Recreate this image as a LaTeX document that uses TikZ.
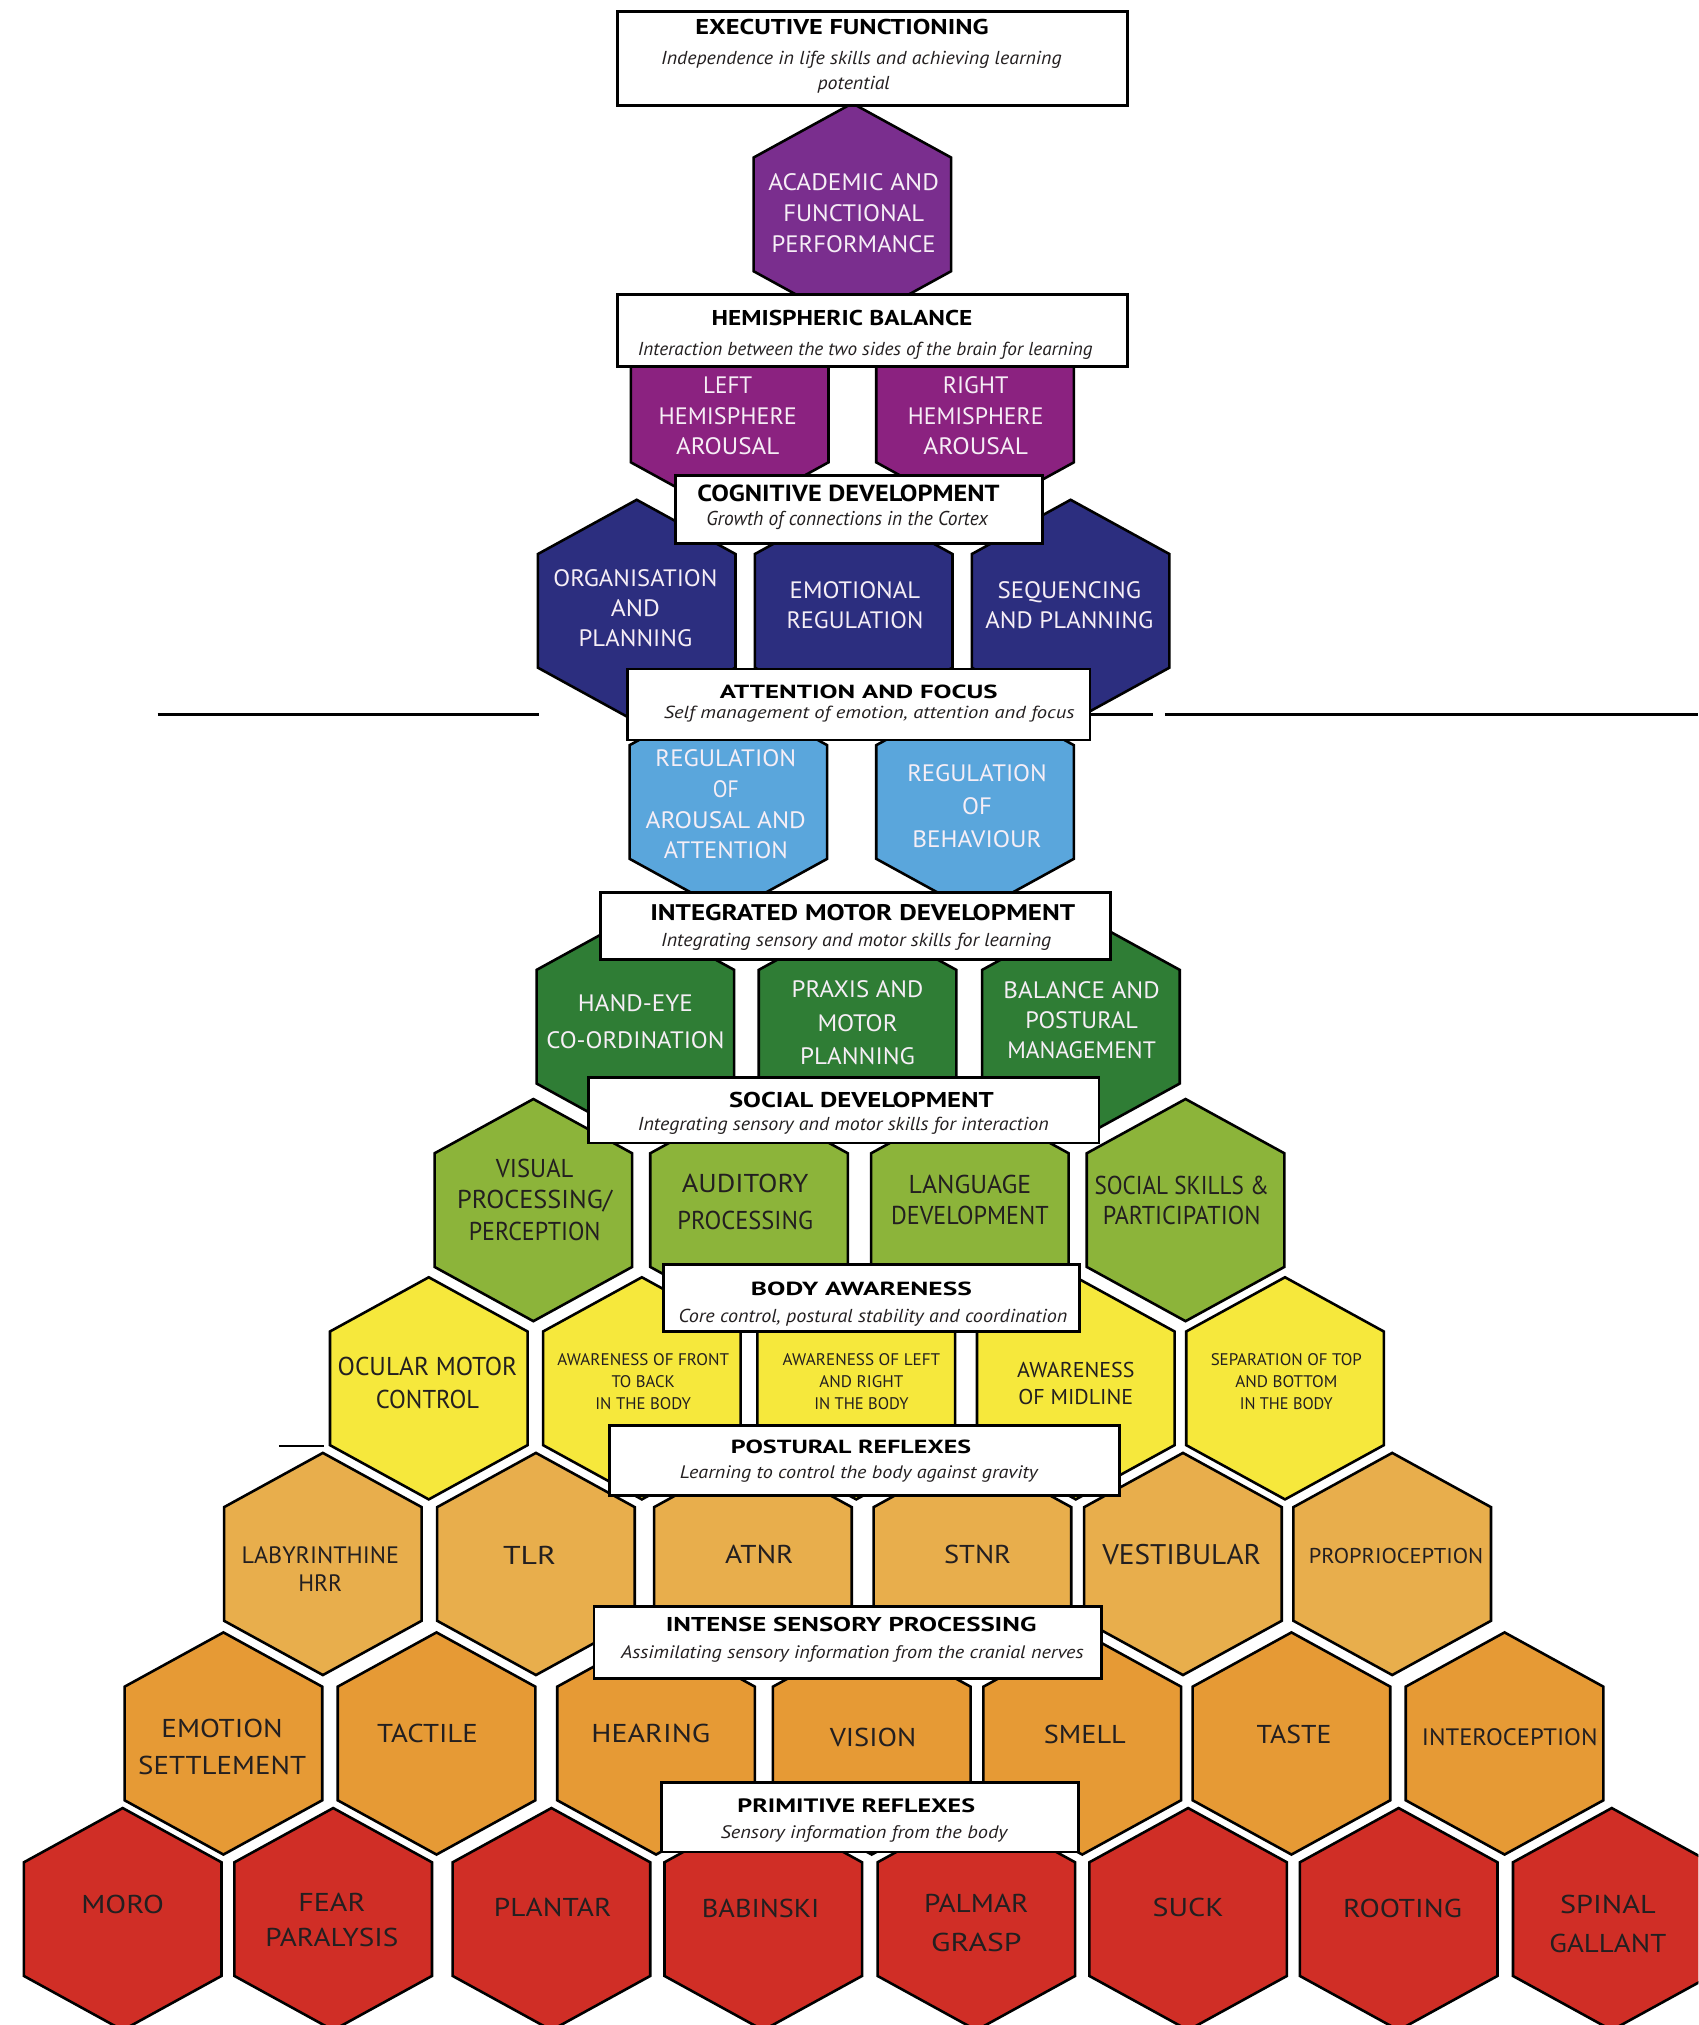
\documentclass[tikz,border=0pt]{standalone}
\usepackage{fontspec}
\setmainfont{PT Sans}
\usepackage{graphicx}

\definecolor{purpA}{RGB}{122,46,142}
\definecolor{purpH}{RGB}{139,34,128}
\definecolor{navy}{RGB}{44,46,127}
\definecolor{lblue}{RGB}{90,166,220}
\definecolor{dgreen}{RGB}{47,125,53}
\definecolor{lgreen}{RGB}{140,180,58}
\definecolor{yel}{RGB}{246,232,60}
\definecolor{porange}{RGB}{232,174,76}
\definecolor{sorange}{RGB}{230,154,53}
\definecolor{rred}{RGB}{208,46,38}
\definecolor{tdark}{RGB}{35,31,32}
\definecolor{twhite}{RGB}{246,238,246}

\newlength\fwlen
\newcommand\fw[2]{\settowidth{\fwlen}{#2}\pgfmathsetmacro\fwsc{#1/\fwlen}\scalebox{\fwsc}[1]{#2}}
\newcommand\hexcell[3]{\path[hexcell,fill=#3] ({#1-76.5},{#2-44}) -- (#1,{#2-86}) -- ({#1+76.5},{#2-44}) -- ({#1+76.5},{#2+44}) -- (#1,{#2+86}) -- ({#1-76.5},{#2+44}) -- cycle;}

\tikzset{
  hexcell/.style={draw=black, line width=2pt, line join=miter},
  wt/.style={text=twhite, align=center, inner sep=0pt, font=\fontsize{18.4}{24}\selectfont},
  dt/.style={text=tdark, align=center, inner sep=0pt, font=\fontsize{20}{24.5}\selectfont},
  hdrbox/.style={draw=black, fill=white, line width=2.2pt, inner sep=0pt},
  hdrtitle/.style={text=black, inner sep=0pt, font=\bfseries\fontsize{16.6}{18}\selectfont},
  hdrsub/.style={text=tdark, inner sep=0pt, font=\itshape\fontsize{14.5}{18}\selectfont},
  rule/.style={draw=black, line width=2.6pt},
}

\begin{document}
\begin{tikzpicture}[x=1pt,y=-1pt]
\useasboundingbox (0,0) rectangle (1315,1568);
\clip (0,0) rectangle (1315,1568);
\fill[white] (0,0) rectangle (1315,1568);

% ---------- hexagons ----------
\hexcell{660}{166}{purpA}
\hexcell{565}{314}{purpH}
\hexcell{755}{314}{purpH}
\hexcell{493}{473}{navy}
\hexcell{661}{473}{navy}
\hexcell{829}{473}{navy}
\hexcell{564}{621}{lblue}
\hexcell{755}{621}{lblue}
\hexcell{492}{795}{dgreen}
\hexcell{664}{795}{dgreen}
\hexcell{837}{795}{dgreen}
\hexcell{413}{937}{lgreen}
\hexcell{580}{937}{lgreen}
\hexcell{751}{937}{lgreen}
\hexcell{918}{937}{lgreen}
\hexcell{332}{1075}{yel}
\hexcell{497}{1075}{yel}
\hexcell{663}{1075}{yel}
\hexcell{833}{1075}{yel}
\hexcell{995}{1075}{yel}
\hexcell{250}{1211}{porange}
\hexcell{415}{1211}{porange}
\hexcell{583}{1211}{porange}
\hexcell{753}{1211}{porange}
\hexcell{916}{1211}{porange}
\hexcell{1078}{1211}{porange}
\hexcell{173}{1350}{sorange}
\hexcell{338}{1350}{sorange}
\hexcell{508}{1350}{sorange}
\hexcell{675}{1350}{sorange}
\hexcell{838}{1350}{sorange}
\hexcell{1000}{1350}{sorange}
\hexcell{1165}{1350}{sorange}
\hexcell{95}{1486}{rred}
\hexcell{258}{1486}{rred}
\hexcell{427}{1486}{rred}
\hexcell{591}{1486}{rred}
\hexcell{756}{1486}{rred}
\hexcell{920}{1486}{rred}
\hexcell{1083}{1486}{rred}
\hexcell{1248}{1486}{rred}

% ---------- hexagon labels ----------
\node[wt] (acad) at (661,165) {\fw{132}{ACADEMIC AND}\\\fw{109}{FUNCTIONAL}\\\fw{127}{PERFORMANCE}};
\node[wt,font=\fontsize{18.4}{23.5}\selectfont] (lefth) at (563.5,322) {\fw{38}{LEFT}\\\fw{107}{HEMISPHERE}\\\fw{80}{AROUSAL}};
\node[wt,font=\fontsize{18.4}{23.5}\selectfont] (righth) at (755.5,322) {\fw{51}{RIGHT}\\\fw{105}{HEMISPHERE}\\\fw{81}{AROUSAL}};
\node[wt,font=\fontsize{18.4}{23}\selectfont] (orgp) at (492,471) {\fw{127}{ORGANISATION}\\\fw{38}{AND}\\\fw{88}{PLANNING}};
\node[wt,font=\fontsize{18.4}{23}\selectfont] (emreg) at (662,468.5) {\fw{101}{EMOTIONAL}\\\fw{106}{REGULATION}};
\node[wt,font=\fontsize{18.4}{23}\selectfont] (seqp) at (828,468.5) {\fw{111}{SEQUENCING}\\\fw{130}{AND PLANNING}};
\node[wt,font=\fontsize{18.4}{23.7}\selectfont] (regaa) at (562,623) {\fw{109}{REGULATION}\\\fw{20}{OF}\\\fw{124}{AROUSAL AND}\\\fw{96}{ATTENTION}};
\node[wt,font=\fontsize{18.4}{25.5}\selectfont] (regb) at (756.5,624) {\fw{108}{REGULATION}\\\fw{23}{OF}\\\fw{100}{BEHAVIOUR}};
\node[wt,font=\fontsize{18.4}{28.5}\selectfont] (handeye) at (492,791) {\fw{89}{HAND-EYE}\\\fw{138}{CO-ORDINATION}};
\node[wt,font=\fontsize{18.4}{25.7}\selectfont] (praxis) at (664,792) {\fw{102}{PRAXIS AND}\\\fw{62}{MOTOR}\\\fw{89}{PLANNING}};
\node[wt,font=\fontsize{18.4}{23.5}\selectfont] (balance) at (837.5,790) {\fw{121}{BALANCE AND}\\\fw{87}{POSTURAL}\\\fw{115}{MANAGEMENT}};

\node[dt,font=\fontsize{20}{24.5}\selectfont] (visual) at (414,929) {\fw{60}{VISUAL}\\\fw{120}{PROCESSING/}\\\fw{102}{PERCEPTION}};
\node[dt,font=\fontsize{20}{29}\selectfont] (auditory) at (577,930.5) {\fw{98}{AUDITORY}\\\fw{105}{PROCESSING}};
\node[dt,font=\fontsize{20}{24}\selectfont] (language) at (751,929) {\fw{95}{LANGUAGE}\\\fw{122}{DEVELOPMENT}};
\node[dt,font=\fontsize{20}{23.5}\selectfont] (socskills) at (915,929.5) {\fw{135}{SOCIAL SKILLS \&}\\\fw{122}{PARTICIPATION}};

\node[dt,font=\fontsize{20}{26}\selectfont] (ocular) at (331,1071) {\fw{139}{OCULAR MOTOR}\\\fw{80}{CONTROL}};
\node[dt,font=\fontsize{13}{17}\selectfont] (frontback) at (498,1070) {\fw{133}{AWARENESS OF FRONT}\\\fw{49}{TO BACK}\\\fw{74}{IN THE BODY}};
\node[dt,font=\fontsize{13}{17}\selectfont] (leftright) at (667,1070) {\fw{122}{AWARENESS OF LEFT}\\\fw{65}{AND RIGHT}\\\fw{73}{IN THE BODY}};
\node[dt,font=\fontsize{16.6}{21}\selectfont] (midline) at (833,1071.5) {\fw{91}{AWARENESS}\\\fw{89}{OF MIDLINE}};
\node[dt,font=\fontsize{13}{17}\selectfont] (topbottom) at (996,1070) {\fw{117}{SEPARATION OF TOP}\\\fw{79}{AND BOTTOM}\\\fw{72}{IN THE BODY}};

\node[dt,font=\fontsize{18.4}{22}\selectfont] (labyr) at (248,1215) {\fw{122}{LABYRINTHINE}\\\fw{34}{HRR}};
\node[dt,font=\fontsize{20}{24}\selectfont] (tlr) at (410,1204) {\fw{41}{TLR}};
\node[dt,font=\fontsize{20}{24}\selectfont] (atnr) at (588,1204) {\fw{53}{ATNR}};
\node[dt,font=\fontsize{20}{24}\selectfont] (stnr) at (757,1204) {\fw{52}{STNR}};
\node[dt,font=\fontsize{22}{24}\selectfont] (vestib) at (915,1204) {\fw{123}{VESTIBULAR}};
\node[dt,font=\fontsize{16.6}{24}\selectfont] (propr) at (1081,1205) {\fw{135}{PROPRIOCEPTION}};

\node[dt,font=\fontsize{20}{29}\selectfont] (emotion) at (172,1352.5) {\fw{94}{EMOTION}\\\fw{130}{SETTLEMENT}};
\node[dt] (tactile) at (331,1342) {\fw{78}{TACTILE}};
\node[dt] (hearing) at (504,1342) {\fw{92}{HEARING}};
\node[dt] (vision) at (676,1345) {\fw{67}{VISION}};
\node[dt] (smell) at (840,1343) {\fw{63.5}{SMELL}};
\node[dt] (taste) at (1002,1343) {\fw{58}{TASTE}};
\node[dt,font=\fontsize{18.4}{24}\selectfont] (intero) at (1169,1345) {\fw{136}{INTEROCEPTION}};

\node[dt] (moro) at (95,1475) {\fw{64}{MORO}};
\node[dt,font=\fontsize{20}{27}\selectfont] (fear) at (257,1486.5) {\fw{52}{FEAR}\\\fw{103}{PARALYSIS}};
\node[dt] (plantar) at (428,1477) {\fw{91}{PLANTAR}};
\node[dt] (babinski) at (589,1478) {\fw{91}{BABINSKI}};
\node[dt,font=\fontsize{20}{30}\selectfont] (palmar) at (756,1489) {\fw{81}{PALMAR}\\\fw{70}{GRASP}};
\node[dt] (suck) at (920,1477) {\fw{55}{SUCK}};
\node[dt] (rooting) at (1086,1478) {\fw{92}{ROOTING}};
\node[dt,font=\fontsize{20}{30}\selectfont] (spinal) at (1245,1490) {\fw{74}{SPINAL}\\\fw{90.5}{GALLANT}};

% ---------- rules ----------
\coordinate (ruleLa) at (122,553);
\coordinate (ruleLb) at (417,553);
\coordinate (ruleRa) at (844,553);
\coordinate (ruleRb) at (893,553);
\coordinate (ruleRc) at (902,553);
\coordinate (ruleRd) at (1315,553);
\coordinate (dashA) at (216,1120);
\coordinate (dashB) at (251,1120);
\draw[rule] (ruleLa) -- (ruleLb);
\draw[rule] (ruleRa) -- (ruleRb);
\draw[rule] (ruleRc) -- (ruleRd);
\draw[draw=black, line width=1.6pt] (dashA) -- (dashB);

% ---------- header boxes ----------
\node[hdrbox, minimum width=395pt, minimum height=73pt] (execbox) at (675.5,45.5) {};
\node[hdrbox, minimum width=395pt, minimum height=56pt] (hemibox) at (675.5,256) {};
\node[hdrbox, minimum width=284pt, minimum height=53pt] (cogbox) at (665,394.5) {};
\node[hdrbox, minimum width=358pt, minimum height=55pt] (attnbox) at (665,545.5) {};
\node[hdrbox, minimum width=395pt, minimum height=52pt] (motorbox) at (662.5,717) {};
\node[hdrbox, minimum width=395pt, minimum height=51pt] (socbox) at (653.5,859.5) {};
\node[hdrbox, minimum width=322pt, minimum height=52pt] (bodybox) at (675,1005) {};
\node[hdrbox, minimum width=395pt, minimum height=54pt] (postbox) at (669.5,1131) {};
\node[hdrbox, minimum width=393pt, minimum height=56pt] (sensbox) at (656.5,1272) {};
\node[hdrbox, minimum width=323pt, minimum height=54pt] (primbox) at (673.5,1407) {};

% ---------- header texts ----------
\node[hdrtitle] (exect) at (652,21) {\fw{227}{EXECUTIVE FUNCTIONING}};
\node[hdrsub] (execs1) at (667,46) {\fw{310}{Independence in life skills and achieving learning}};
\node[hdrsub] (execs2) at (661,66) {\fw{56}{potential}};

\node[hdrtitle] (hemit) at (652,246) {\fw{202}{HEMISPHERIC BALANCE}};
\node[hdrsub] (hemis) at (670,272) {\fw{352}{Interaction between the two sides of the brain for learning}};

\node[hdrtitle,font=\bfseries\fontsize{18}{20}\selectfont] (cogt) at (657,382) {\fw{234}{COGNITIVE DEVELOPMENT}};
\node[hdrsub,font=\itshape\fontsize{15.5}{18}\selectfont] (cogs) at (656,403) {\fw{218}{Growth of connections in the Cortex}};

\node[hdrtitle,font=\bfseries\fontsize{14.7}{18}\selectfont] (attnt) at (665,536) {\fw{215}{ATTENTION AND FOCUS}};
\node[hdrsub,font=\itshape\fontsize{13.5}{18}\selectfont] (attns) at (673,553) {\fw{318}{Self management of emotion, attention and focus}};

\node[hdrtitle,font=\bfseries\fontsize{17.5}{20}\selectfont] (motort) at (668,707) {\fw{329}{INTEGRATED MOTOR DEVELOPMENT}};
\node[hdrsub] (motors) at (663,729) {\fw{302}{Integrating sensory and motor skills for learning}};

\node[hdrtitle] (soct) at (667,852) {\fw{205}{SOCIAL DEVELOPMENT}};
\node[hdrsub] (socs) at (653,872) {\fw{318}{Integrating sensory and motor skills for interaction}};

\node[hdrtitle,font=\bfseries\fontsize{14.7}{18}\selectfont] (bodyt) at (667,998) {\fw{171}{BODY AWARENESS}};
\node[hdrsub] (bodys) at (676,1020) {\fw{301}{Core control, postural stability and coordination}};

\node[hdrtitle,font=\bfseries\fontsize{14.7}{18}\selectfont] (postt) at (659,1120) {\fw{186}{POSTURAL REFLEXES}};
\node[hdrsub,font=\itshape\fontsize{14}{18}\selectfont] (posts) at (665,1141) {\fw{277}{Learning to control the body against gravity}};

\node[hdrtitle,font=\bfseries\fontsize{15.5}{18}\selectfont] (senst) at (659,1258) {\fw{287}{INTENSE SENSORY PROCESSING}};
\node[hdrsub,font=\itshape\fontsize{14}{18}\selectfont] (senss) at (660,1281) {\fw{358}{Assimilating sensory information from the cranial nerves}};

\node[hdrtitle,font=\bfseries\fontsize{15}{18}\selectfont] (primt) at (663,1398) {\fw{184}{PRIMITIVE REFLEXES}};
\node[hdrsub,font=\itshape\fontsize{14}{18}\selectfont] (prims) at (669,1420) {\fw{222}{Sensory information from the body}};

\end{tikzpicture}
\end{document}
